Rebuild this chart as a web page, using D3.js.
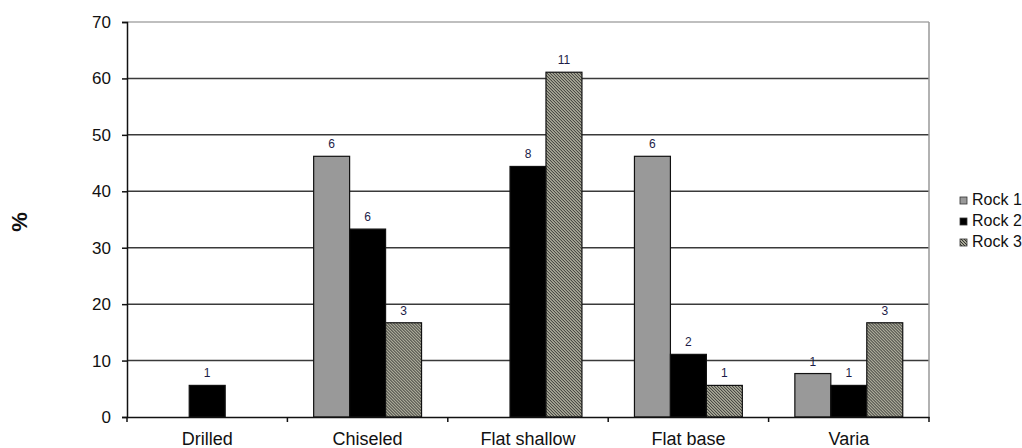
<!DOCTYPE html>
<html>
<head>
<meta charset="utf-8">
<script src="https://cdn.jsdelivr.net/npm/d3@7"></script>
<style>
    body { margin: 0; background: #fff; }
    text { font-family: "Liberation Sans", Arial, sans-serif; }
</style>
</head>
<body>
<script>
//Chart data
var categories = ["Drilled", "Chiseled", "Flat shallow", "Flat base", "Varia"];
var seriesNames = ["Rock 1", "Rock 2", "Rock 3"];
var rock1 = [0, 46.2, 0, 46.2, 7.7];
var rock2 = [5.6, 33.3, 44.4, 11.1, 5.6];
var rock3 = [0, 16.7, 61.1, 5.6, 16.7];
//Counts written above the bars (null = no bar)
var rock1Counts = [null, 6, null, 6, 1];
var rock2Counts = [1, 6, 8, 2, 1];
var rock3Counts = [null, 3, 11, 1, 3];
var yTicks = [0, 10, 20, 30, 40, 50, 60, 70];

var values = [rock1, rock2, rock3];
var counts = [rock1Counts, rock2Counts, rock3Counts];

//Define Margin
var margin = {left: 127, right: 93, top: 22, bottom: 31},
    width = 1022 - margin.left - margin.right,
    height = 448 - margin.top - margin.bottom;

var svg = d3.select("body").append("svg")
    .attr("width", 1022)
    .attr("height", 448);

//Hatch pattern for Rock 3
var defs = svg.append("defs");
var pat = defs.append("pattern")
    .attr("id", "hatch")
    .attr("patternUnits", "userSpaceOnUse")
    .attr("width", 3)
    .attr("height", 3);
pat.append("rect")
    .attr("width", 3).attr("height", 3)
    .attr("fill", "#dcdcc4");
pat.append("path")
    .attr("d", "M-1,-1 L4,4 M-1,2 L1,4 M2,-1 L4,1")
    .attr("stroke", "#2a2a2a")
    .attr("stroke-width", 1.1);

var fills = ["#999999", "#000000", "url(#hatch)"];

var g = svg.append("g")
    .attr("transform", "translate(" + margin.left + "," + margin.top + ")");

//Scales
var x0 = d3.scaleBand()
    .domain(categories)
    .range([0, width])
    .padding(0);

var x1 = d3.scaleBand()
    .domain(seriesNames)
    .range([0, x0.bandwidth()])
    .paddingInner(0)
    .paddingOuter(0.73);

var y = d3.scaleLinear()
    .domain([0, 70])
    .range([height, 0]);

//Gridlines
g.selectAll(".grid")
    .data(yTicks.filter(function(d) { return d > 0; }))
    .enter().append("line")
    .attr("x1", 0)
    .attr("x2", width)
    .attr("y1", function(d) { return y(d); })
    .attr("y2", function(d) { return y(d); })
    .attr("stroke", function(d) { return d === 70 ? "#aaaaaa" : "#3a3a3a"; })
    .attr("stroke-width", 1.5);

//Right border of plot area
g.append("line")
    .attr("x1", width).attr("x2", width)
    .attr("y1", 0).attr("y2", height)
    .attr("stroke", "#999999")
    .attr("stroke-width", 1.5);

//Bars
var groups = g.selectAll(".cat")
    .data(categories)
    .enter().append("g")
    .attr("transform", function(d) { return "translate(" + x0(d) + ",0)"; });

seriesNames.forEach(function(s, si) {
    groups.each(function(c, ci) {
        var v = values[si][ci];
        if (!v) return;
        var grp = d3.select(this);
        grp.append("rect")
            .attr("x", x1(s))
            .attr("y", y(v))
            .attr("width", x1.bandwidth())
            .attr("height", y(0) - y(v))
            .attr("fill", fills[si])
            .attr("stroke", "#111")
            .attr("stroke-width", 1.2);
        grp.append("text")
            .attr("x", x1(s) + x1.bandwidth() / 2)
            .attr("y", y(v) - 8)
            .attr("text-anchor", "middle")
            .attr("font-size", "12px")
            .attr("fill", "#1c1c48")
            .text(counts[si][ci]);
    });
});

//Y axis
var yAxis = g.append("g")
    .call(d3.axisLeft(y).tickValues(yTicks).tickSize(5).tickPadding(11));
yAxis.select(".domain").attr("stroke", "#111").attr("stroke-width", 1.5);
yAxis.selectAll(".tick line").attr("stroke", "#111").attr("stroke-width", 1.5);
yAxis.selectAll("text")
    .attr("font-size", "17px")
    .attr("fill", "#111")
    .style("font-family", "'Liberation Sans', Arial, sans-serif");

//X axis
var xAxis = g.append("g")
    .attr("transform", "translate(0," + height + ")")
    .call(d3.axisBottom(x0).tickSize(0).tickPadding(15));
xAxis.select(".domain").attr("stroke", "#111").attr("stroke-width", 1.5);
xAxis.selectAll("text")
    .attr("font-size", "18px")
    .attr("fill", "#111")
    .style("font-family", "'Liberation Sans', Arial, sans-serif");

//Category boundary tick marks
g.selectAll(".xtick")
    .data(categories.concat([null]))
    .enter().append("line")
    .attr("x1", function(d, i) { return i * x0.step(); })
    .attr("x2", function(d, i) { return i * x0.step(); })
    .attr("y1", height)
    .attr("y2", height + 5)
    .attr("stroke", "#111")
    .attr("stroke-width", 1.5);

//Y label
svg.append("text")
    .attr("transform", "translate(27,222) rotate(-90)")
    .attr("text-anchor", "middle")
    .attr("font-size", "22px")
    .attr("font-weight", "bold")
    .attr("fill", "#111")
    .text("%");

//Legend
var legend = svg.append("g")
    .attr("transform", "translate(960,196)");

seriesNames.forEach(function(s, i) {
    legend.append("rect")
        .attr("x", 0)
        .attr("y", i * 21 + 1)
        .attr("width", 7)
        .attr("height", 7)
        .attr("fill", fills[i])
        .attr("stroke", "#333")
        .attr("stroke-width", 0.8);
    legend.append("text")
        .attr("x", 12)
        .attr("y", i * 21 + 9)
        .attr("font-size", "16px")
        .attr("fill", "#111")
        .text(s);
});
</script>
</body>
</html>
